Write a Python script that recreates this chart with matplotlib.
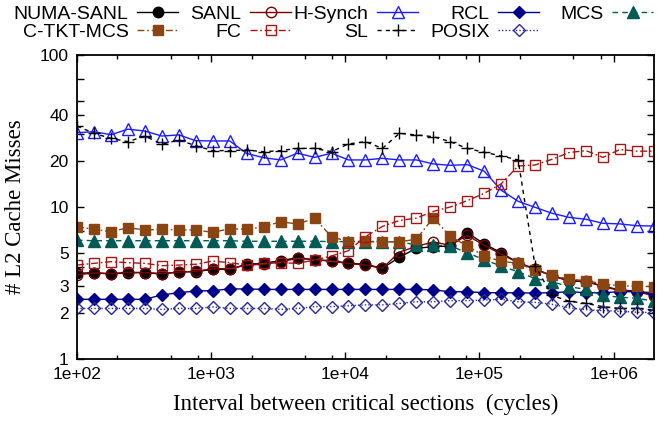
import matplotlib
matplotlib.use("Agg")
import matplotlib.pyplot as plt

# Interval between critical sections (cycles)
intervals = [100, 134, 179, 240, 321, 429, 574, 768, 1028, 1375, 1840, 2462,
             3294, 4407, 5897, 7890, 10557, 14125, 18899, 25287, 33834, 45270,
             60571, 81044, 108437, 145089, 194129, 259745, 347539, 465007,
             622180, 832477, 1113855, 1490338, 1994072]

numa_sanl = [3.66, 3.70, 3.62, 3.70, 3.70, 3.62, 3.75, 3.75, 3.89, 3.89, 4.20, 4.26,
             4.44, 4.64, 4.48, 4.44, 4.26, 4.20, 3.95, 4.67, 5.35, 5.48, 5.54, 6.78,
             5.72, 5.00, 4.30, 3.89, 3.53, 3.26, 3.23, 3.02, 2.84, 2.80, 2.64]
sanl = [3.58, 3.68, 3.65, 3.72, 3.70, 3.65, 3.72, 3.78, 3.92, 3.92, 4.15, 4.20,
        4.35, 4.60, 4.50, 4.40, 4.25, 4.15, 3.95, 5.05, 5.50, 5.90, 5.60, 6.50,
        5.60, 4.90, 4.30, 3.92, 3.53, 3.28, 3.25, 3.00, 2.82, 2.78, 2.60]
h_synch = [30.8, 31.3, 29.9, 32.5, 31.6, 29.3, 29.8, 27.3, 27.2, 27.2, 22.5, 21.1,
           20.4, 22.6, 21.2, 22.6, 20.4, 20.4, 20.9, 20.4, 20.4, 19.2, 18.8, 19.0,
           17.2, 12.9, 10.9, 9.95, 9.09, 8.55, 8.30, 7.81, 7.74, 7.53, 7.50]
rcl = [2.47, 2.47, 2.47, 2.47, 2.47, 2.64, 2.73, 2.80, 2.82, 2.89, 2.89, 2.87,
       2.87, 2.87, 2.87, 2.87, 2.87, 2.87, 2.87, 2.87, 2.87, 2.85, 2.77, 2.77,
       2.73, 2.73, 2.72, 2.72, 2.73, 2.77, 2.73, 2.73, 2.77, 2.77, 2.73]
mcs = [6.05, 6.0, 6.0, 6.0, 6.0, 6.0, 6.0, 6.0, 6.0, 6.0, 5.95, 5.95,
       5.95, 5.95, 5.95, 5.92, 5.92, 5.92, 5.88, 5.92, 5.62, 5.62, 5.55, 5.00,
       4.50, 4.09, 3.75, 3.38, 3.23, 2.99, 2.87, 2.62, 2.55, 2.51, 2.40]
c_tkt_mcs = [7.42, 7.13, 6.88, 7.31, 7.06, 7.13, 7.06, 7.06, 6.81, 7.20, 7.13, 7.42,
             8.00, 7.73, 8.42, 6.38, 5.91, 5.96, 5.91, 5.91, 6.13, 8.50, 6.40, 5.55,
             4.75, 4.40, 4.26, 3.83, 3.55, 3.35, 3.28, 3.12, 3.03, 3.02, 2.99]
fc = [4.15, 4.26, 4.37, 4.30, 4.26, 4.11, 4.15, 4.20, 4.41, 4.30, 4.15, 4.26,
      4.30, 4.26, 4.48, 4.76, 5.16, 6.38, 7.45, 8.15, 8.45, 9.35, 10.0, 11.0,
      12.3, 14.2, 18.6, 18.9, 20.6, 22.8, 23.5, 21.2, 23.9, 23.3, 23.3]
sl = [34.1, 30.5, 28.3, 26.9, 29.3, 25.9, 27.6, 25.3, 23.5, 23.5, 23.7, 23.1,
      23.5, 24.3, 24.3, 23.1, 26.0, 26.9, 24.3, 30.5, 29.8, 29.0, 26.9, 24.3,
      22.9, 21.7, 20.4, 4.10, 2.62, 2.40, 2.32, 2.21, 2.15, 2.15, 2.10]
posix = [2.15, 2.15, 2.15, 2.15, 2.15, 2.12, 2.15, 2.15, 2.20, 2.15, 2.15, 2.15,
         2.12, 2.15, 2.21, 2.21, 2.24, 2.27, 2.27, 2.32, 2.38, 2.38, 2.42, 2.42,
         2.44, 2.47, 2.38, 2.36, 2.29, 2.17, 2.11, 2.08, 2.06, 2.03, 2.02]

x_major = [1e2, 1e3, 1e4, 1e5, 1e6]
x_major_labels = ["1e+02", "1e+03", "1e+04", "1e+05", "1e+06"]
y_ticks = [1, 2, 3, 4, 5, 7, 10, 20, 30, 40, 50, 70, 100]
y_tick_labels = ["1", "2", "3", "", "5", "", "10", "20", "", "40", "", "", "100"]

SANS = ["Liberation Sans", "DejaVu Sans"]
SERIF = ["Liberation Serif", "DejaVu Serif"]

fig = plt.figure(figsize=(6.57, 4.21), dpi=100)
ax = fig.add_axes([77 / 657, 62 / 421, 577 / 657, 304 / 421])

styles = [
    ("NUMA-SANL", numa_sanl, dict(color="black", ls="-", marker="o", ms=7.5,
                                  mfc="black", mec="black")),
    ("SANL", sanl, dict(color="#7a0000", ls="-", marker="o", ms=7.5,
                        mfc="none", mec="#7a0000")),
    ("H-Synch", h_synch, dict(color="#1c1cff", ls="-", marker="^", ms=8,
                              mfc="none", mec="#1c1cff")),
    ("RCL", rcl, dict(color="#00008b", ls="-", marker="D", ms=6.5,
                      mfc="#00008b", mec="#00008b")),
    ("MCS", mcs, dict(color="#005a55", ls=(0, (4, 3)), marker="^", ms=8,
                      mfc="#005a55", mec="#005a55")),
    ("C-TKT-MCS", c_tkt_mcs, dict(color="#8b4513", ls=(0, (5, 2, 1.2, 2)), marker="s",
                                  ms=6.5, mfc="#8b4513", mec="#8b4513")),
    ("FC", fc, dict(color="#a01818", ls=(0, (5, 2, 1.2, 2)), marker="s", ms=6.5,
                    mfc="none", mec="#a01818")),
    ("SL", sl, dict(color="black", ls=(0, (3, 3)), marker="+", ms=9, mew=1.0)),
    ("POSIX", posix, dict(color="#2a2a9a", ls=(0, (1, 1.5)), marker="D", ms=6.5,
                          mfc="none", mec="#2a2a9a")),
]

handles = {}
for name, vals, st in styles:
    st = dict(st)
    st.setdefault("mew", 1.0)
    line, = ax.plot(intervals, vals, lw=1.0, label=name, **st)
    handles[name] = line

ax.set_xscale("log")
ax.set_yscale("log")
ax.set_xlim(100, 2e6)
ax.set_ylim(1, 100)

ax.set_xticks(x_major)
ax.set_xticklabels(x_major_labels)
minor_x = [m * d for d in (1e2, 1e3, 1e4, 1e5, 1e6) for m in (2, 5, 8) if m * d < 2e6]
ax.set_xticks(minor_x, minor=True)
ax.set_xticklabels([], minor=True)
ax.set_yticks(y_ticks)
ax.set_yticklabels(y_tick_labels)
ax.set_yticks([], minor=True)

for lab in ax.get_xticklabels() + ax.get_yticklabels():
    lab.set_family(SANS)
    lab.set_fontsize(12.5)

ax.tick_params(which="both", direction="in", top=True, right=True, width=1.0)
ax.tick_params(which="major", length=5, pad=6)
ax.tick_params(which="minor", length=3)
for sp in ax.spines.values():
    sp.set_linewidth(1.3)

ax.set_xlabel("Interval between critical sections  (cycles)", family=SERIF,
              fontsize=16.5, labelpad=8)
ax.set_ylabel("# L2 Cache Misses", family=SERIF, fontsize=16.5, labelpad=10)

# Key: five columns, each label sits to the left of its sample line
columns = [["NUMA-SANL", "C-TKT-MCS"], ["SANL", "FC"], ["H-Synch", "SL"],
           ["RCL", "POSIX"], ["MCS"]]
col_right = [178, 291, 418, 539, 653]
for names, xr in zip(columns, col_right):
    fig.legend([handles[n] for n in names], names, loc="upper right",
               bbox_to_anchor=(xr / 657, 1 - 5 / 421),
               markerfirst=False, frameon=False, borderpad=0,
               borderaxespad=0, handlelength=2.1, handletextpad=0.45,
               labelspacing=0.02, prop={"family": SANS, "size": 14})

fig.savefig("out.png", dpi=100)
